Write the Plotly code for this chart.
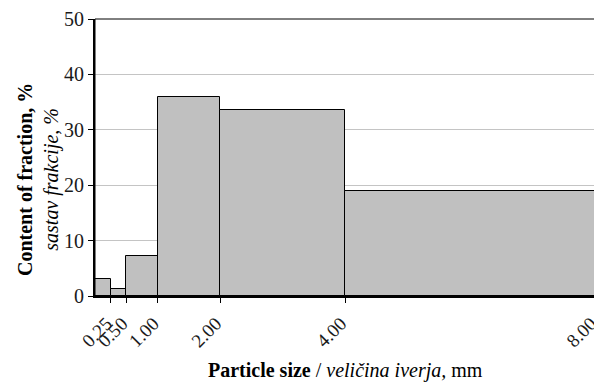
import plotly.graph_objects as go

bin_left = [0.0, 0.25, 0.5, 1.0, 2.0, 4.0]
bin_right = [0.25, 0.5, 1.0, 2.0, 4.0, 8.0]
content = [3.0, 1.2, 7.2, 36.0, 33.5, 19.0]
tick_vals = [0.25, 0.5, 1.0, 2.0, 4.0, 8.0]
tick_text = ["0.25", "0.50", "1.00", "2.00", "4.00", "8.00"]
y_ticks = [0, 10, 20, 30, 40, 50]

centers = [(a + b) / 2 for a, b in zip(bin_left, bin_right)]
widths = [b - a for a, b in zip(bin_left, bin_right)]

fig = go.Figure(go.Bar(
    x=centers, y=content, width=widths,
    marker=dict(color="#c0c0c0", line=dict(color="black", width=1)),
))

font = "Liberation Serif, Times New Roman, serif"
# page body has an 8px margin, so the figure is sized/positioned to compensate
fig.update_layout(
    width=594, height=379,
    margin=dict(l=87, r=7, t=11, b=91),
    plot_bgcolor="white", paper_bgcolor="white",
    showlegend=False,
    font=dict(family=font, size=20, color="#1a1a1a"),
    bargap=0,
)
fig.update_xaxes(
    range=[0, 8.0001], tickmode="array", tickvals=tick_vals, ticktext=tick_text,
    tickangle=-45, ticks="outside", ticklen=5, tickcolor="black",
    showline=True, linecolor="black", linewidth=2,
    showgrid=False, zeroline=False, automargin=False,
    ticklabeloverflow="allow", ticklabelshift=-4, ticklabelstandoff=2,
    tickfont=dict(family=font, size=19),
)
fig.update_yaxes(
    range=[0, 50], tickvals=y_ticks,
    ticks="outside", ticklen=5, tickcolor="black",
    showline=True, linecolor="black", linewidth=2,
    showgrid=True, gridcolor="#c4c4c4", gridwidth=1, zeroline=False,
    automargin=False,
    tickfont=dict(family=font, size=20),
)
fig.add_shape(type="rect", xref="paper", yref="paper", x0=0, y0=0, x1=1, y1=1,
              line=dict(color="black", width=1), layer="above")

fig.add_annotation(
    text="<b>Content of fraction, %</b><br><i>sastav frakcije, %</i>",
    xref="paper", yref="paper", x=0, y=(296 - 180) / 277,
    xanchor="center", yanchor="middle", xshift=-57,
    textangle=-90, showarrow=False,
    font=dict(family=font, size=20, color="black"),
)
fig.add_annotation(
    text="<b>Particle size</b> / <i>veličina iverja,</i> mm",
    xref="paper", yref="paper", x=0.5, y=0,
    xanchor="center", yanchor="middle", yshift=-74,
    showarrow=False,
    font=dict(family=font, size=20, color="black"),
)
fig.write_html("out.html")
